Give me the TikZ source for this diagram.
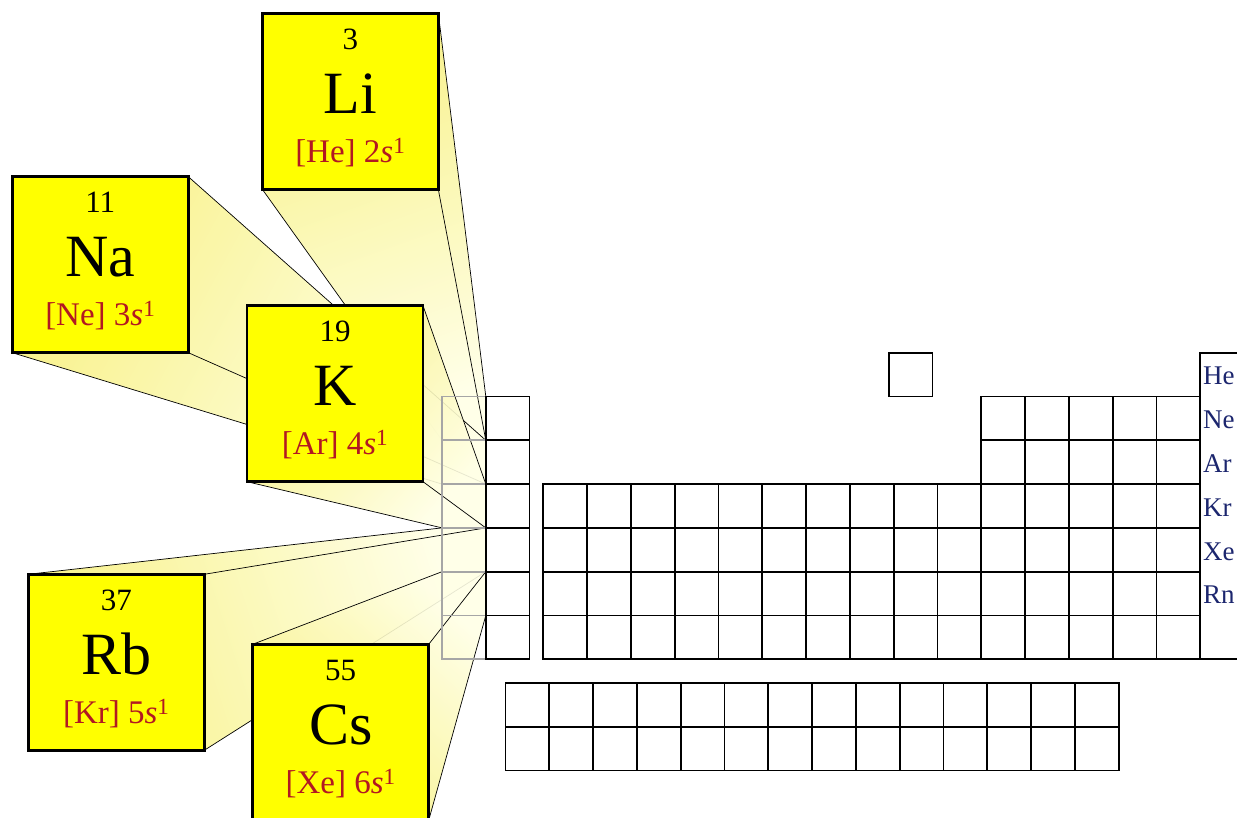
\documentclass[tikz,border=0pt]{standalone}
\usepackage{fontspec}
\setmainfont{Liberation Serif}
\definecolor{cfgred}{RGB}{178,24,34}
\definecolor{nobleblue}{RGB}{28,38,110}
\definecolor{boxyel}{RGB}{255,255,0}
\definecolor{frA}{RGB}{247,240,125}
\definecolor{frB}{RGB}{255,255,230}
\begin{document}
\begin{tikzpicture}[x=1pt,y=1pt,
  elshape/.style={minimum width=176pt,minimum height=176pt,inner sep=0pt,outer sep=0pt},
  elbox/.style={elshape,draw=black,line width=2.6pt,fill=boxyel},
  cellnode/.style={minimum width=43.8pt,minimum height=43.8pt,inner sep=0pt,outer sep=0pt},
  gridline/.style={draw=black,line width=1.7pt},
  gonecell/.style={draw=black!35,line width=1.7pt},
  fredge/.style={draw=black,line width=0.7pt},
  frfill/.style={top color=frA,bottom color=frB,fill opacity=0.9},
  numtxt/.style={font=\fontsize{31}{31}\selectfont,inner sep=0pt},
  symtxt/.style={font=\fontsize{60}{60}\selectfont,inner sep=0pt,anchor=base},
  cfgtxt/.style={font=\fontsize{33}{33}\selectfont,text=cfgred,inner sep=0pt,anchor=base},
  noble/.style={font=\fontsize{27}{27}\selectfont,text=nobleblue,anchor=base west,inner sep=0pt}]
\useasboundingbox (0,0) rectangle (1237,818);
\clip (0,0) rectangle (1237,818);

% element boxes (positions)
\node[elshape] (li) at (350.3,716.7) {};
\node[elshape] (na) at (100.3,553.3) {};
\node[elshape] (k)  at (335.0,424.3) {};
\node[elshape] (rb) at (116.3,155.7) {};
\node[elshape] (cs) at (340.7,85.7) {};

% group-1 cells
\foreach \n/\yy in {2/399.6,3/355.8,4/312.0,5/268.2,6/224.4,7/180.6}
  \node[cellnode] (c\n) at (463.9,\yy) {};

% frustums
\shade[frfill,shading angle=19.75] (li.north west)--(li.north east)--(c2.north east)--(c2.south east)--(c2.south west)--(li.south west)--cycle;
\draw[fredge] (li.north east)--(c2.north east) (li.south east)--(c2.south east) (li.south west)--(c2.south west);

\shade[frfill,shading angle=61.5] (na.north west)--(na.north east)--(c3.north east)--(c3.south east)--(c3.south west)--(na.south west)--cycle;
\draw[fredge] (na.north east)--(c3.north east) (na.south east)--(c3.south east) (na.south west)--(c3.south west);

\shade[frfill,shading angle=49] (k.north west)--(k.north east)--(c4.north east)--(c4.south east)--(c4.south west)--(k.south west)--cycle;
\draw[fredge] (k.north east)--(c4.north east) (k.south east)--(c4.south east) (k.south west)--(c4.south west);

\shade[frfill,shading angle=107.9] (rb.north west)--(c5.north west)--(c5.north east)--(c5.south east)--(rb.south east)--(rb.south west)--cycle;
\draw[fredge] (rb.north west)--(c5.north west) (rb.north east)--(c5.north east) (rb.south east)--(c5.south east);

\shade[frfill,shading angle=138.2] (cs.north west)--(c6.north west)--(c6.north east)--(c6.south east)--(cs.south east)--(cs.south west)--cycle;
\draw[fredge] (cs.north west)--(c6.north west) (cs.north east)--(c6.north east) (cs.south east)--(c6.south east);

% group-1 column (grey)
\foreach \n in {2,...,7}
  \draw[gonecell] (c\n.south west) rectangle (c\n.north east);

% group 2
\foreach \i in {0,...,5}
  \draw[gridline] (485.8,{158.7+43.8*\i}) rectangle +(43.8,43.8);
% transition metals
\foreach \k in {0,...,9}
  \foreach \i in {0,...,3}
    \draw[gridline] ({543.3+43.8*\k},{158.7+43.8*\i}) rectangle +(43.8,43.8);
% p-block
\foreach \k in {0,...,4}
  \foreach \i in {0,...,5}
    \draw[gridline] ({981.3+43.8*\k},{158.7+43.8*\i}) rectangle +(43.8,43.8);
% hydrogen
\draw[gridline] (888.7,421.5) rectangle +(43.8,43.8);
% group 18
\draw[gridline] (1250,465.3) -- (1200.3,465.3) -- (1200.3,158.7) -- (1250,158.7);
\node[noble] (he) at (1203,433.0) {He};
\node[noble] (ne) at (1203,389.2) {Ne};
\node[noble] (ar) at (1203,345.4) {Ar};
\node[noble] (kr) at (1203,301.6) {Kr};
\node[noble] (xe) at (1203,257.8) {Xe};
\node[noble] (rn) at (1203,214.0) {Rn};
% lanthanides / actinides
\foreach \k in {0,...,13}
  \foreach \i in {0,1}
    \draw[gridline] ({505.5+43.8*\k},{47.4+43.8*\i}) rectangle +(43.8,43.8);

% element boxes
\node[elbox] (libox) at (li) {};
\node[numtxt] (linum) at ([yshift=62pt]li.center) {3};
\node[symtxt] (lisym) at ([yshift=-12pt]li.center) {Li};
\node[cfgtxt] (licfg) at ([yshift=-61pt]li.center) {[He] 2\textit{s}\textsuperscript{1}};

\node[elbox] (nabox) at (na) {};
\node[numtxt] (nanum) at ([yshift=62pt]na.center) {11};
\node[symtxt] (nasym) at ([yshift=-12pt]na.center) {Na};
\node[cfgtxt] (nacfg) at ([yshift=-61pt]na.center) {[Ne] 3\textit{s}\textsuperscript{1}};

\node[elbox] (kbox) at (k) {};
\node[numtxt] (knum) at ([yshift=62pt]k.center) {19};
\node[symtxt] (ksym) at ([yshift=-12pt]k.center) {K};
\node[cfgtxt] (kcfg) at ([yshift=-61pt]k.center) {[Ar] 4\textit{s}\textsuperscript{1}};

\node[elbox] (rbbox) at (rb) {};
\node[numtxt] (rbnum) at ([yshift=62pt]rb.center) {37};
\node[symtxt] (rbsym) at ([yshift=-12pt]rb.center) {Rb};
\node[cfgtxt] (rbcfg) at ([yshift=-61pt]rb.center) {[Kr] 5\textit{s}\textsuperscript{1}};

\node[elbox] (csbox) at (cs) {};
\node[numtxt] (csnum) at ([yshift=62pt]cs.center) {55};
\node[symtxt] (cssym) at ([yshift=-12pt]cs.center) {Cs};
\node[cfgtxt] (cscfg) at ([yshift=-61pt]cs.center) {[Xe] 6\textit{s}\textsuperscript{1}};
\end{tikzpicture}
\end{document}
